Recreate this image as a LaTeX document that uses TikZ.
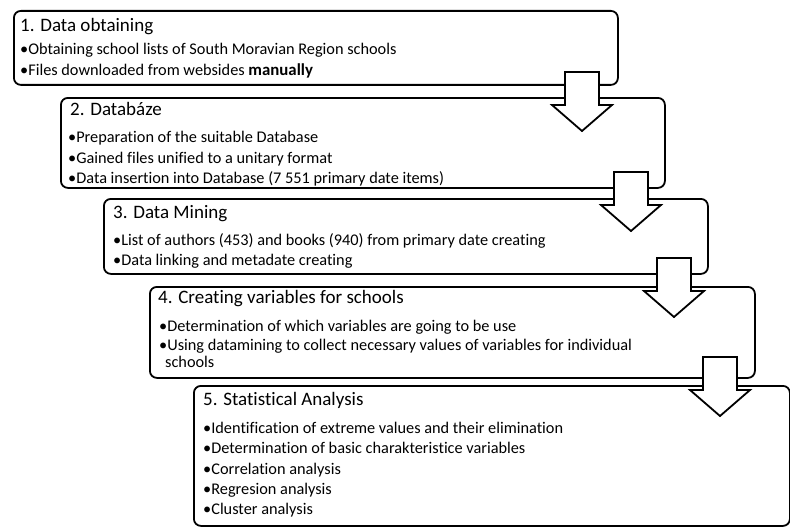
\documentclass[tikz,border=0pt]{standalone}
\usepackage{fontspec}
\setmainfont{Carlito}[Ligatures={NoCommon,NoRare}]
\begin{document}
\begin{tikzpicture}[x=1pt,y=-1pt,
  stage/.style={draw=black, line width=1.8pt, rounded corners=7pt, fill=white,
    anchor=north west, inner sep=0pt},
  heading/.style={anchor=base west, inner sep=0pt, font=\fontsize{19}{22}\selectfont},
  item/.style={anchor=base west, inner sep=0pt, font=\fontsize{16.3}{19}\selectfont},
  flow/.style={draw=black, line width=1.8pt, fill=white, line join=miter},
  downarrow/.pic={\draw[flow] (-17,0) -- (17,0) -- (17,33) -- (30,33) -- (0,59)
    -- (-30,33) -- (-17,33) -- cycle;}]
\useasboundingbox (0,0) rectangle (790,527);

% stage frames
\node[stage, minimum width=604pt, minimum height=74pt]  (s1) at (13,10)  {};
\node[stage, minimum width=604pt, minimum height=90pt]  (s2) at (60,97)  {};
\node[stage, minimum width=604pt, minimum height=75pt]  (s3) at (103,198) {};
\node[stage, minimum width=605pt, minimum height=91pt]  (s4) at (149,286) {};
\node[stage, minimum width=596pt, minimum height=140pt] (s5) at (193,385) {};

% block arrows between consecutive stages
\pic at (582,72)  {downarrow};
\pic at (631,172) {downarrow};
\pic at (674,258) {downarrow};
\pic at (720,357) {downarrow};

% stage 1
\node[heading] (h1) at (20,32) {1. Data obtaining};
\node[item] (i11) at (20,55) {•Obtaining school lists of South Moravian Region schools};
\node[item] (i12) at (20,75) {•Files downloaded from websides {\fontsize{16.8}{19}\selectfont\bfseries manually}};

% stage 2
\node[heading] (h2) at (70,115) {2. Databáze};
\node[item] (i21) at (68,142) {•Preparation of the suitable Database};
\node[item] (i22) at (68,163) {•Gained files unified to a unitary format};
\node[item] (i23) at (68,183) {•Data insertion into Database (7 551 primary date items)};

% stage 3
\node[heading] (h3) at (113,218) {3. Data Mining};
\node[item] (i31) at (113,245) {•List of authors (453) and books (940) from primary date creating};
\node[item] (i32) at (113,265) {•Data linking and metadate creating};

% stage 4
\node[heading] (h4) at (158,303) {4. Creating variables for schools};
\node[item] (i41) at (159,331) {•Determination of which variables are going to be use};
\node[item] (i42) at (159,350) {•Using datamining to collect necessary values of variables for individual};
\node[item] (i43) at (165,367) {schools};

% stage 5
\node[heading] (h5) at (203,405) {5. Statistical Analysis};
\node[item] (i51) at (203,433) {•Identification of extreme values and their elimination};
\node[item] (i52) at (203,453) {•Determination of basic charakteristice variables};
\node[item] (i53) at (203,474) {•Correlation analysis};
\node[item] (i54) at (203,494) {•Regresion analysis};
\node[item] (i55) at (203,514) {•Cluster analysis};
\end{tikzpicture}
\end{document}
